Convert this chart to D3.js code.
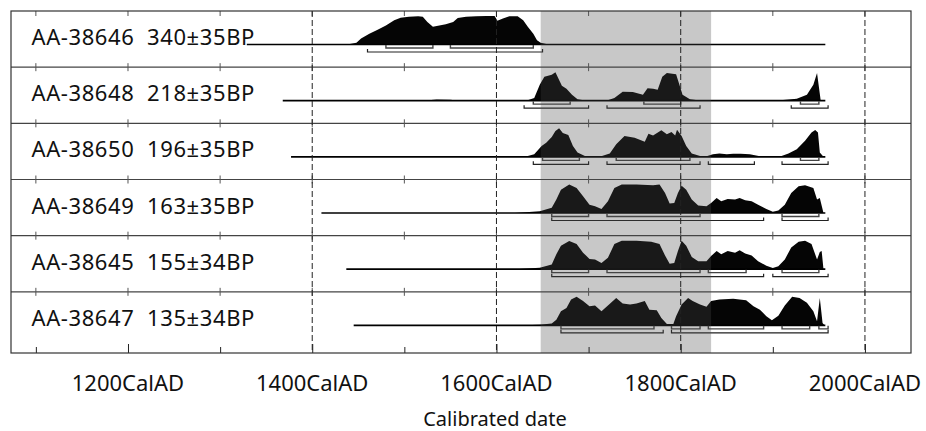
<!DOCTYPE html>
<html>
<head>
<meta charset="utf-8">
<script src="https://cdn.jsdelivr.net/npm/d3@7"></script>
<style>
    body {
        margin: 0;
        background: #fff;
    }
    text {
        font-family: "Noto Sans", sans-serif;
        fill: #111;
    }
</style>
</head>
<body>
<svg id="chart" width="926" height="431"></svg>
<script>
    // sample labels, top to bottom
    const labels = [
        "AA-38646  340\u00b135BP",
        "AA-38648  218\u00b135BP",
        "AA-38650  196\u00b135BP",
        "AA-38649  163\u00b135BP",
        "AA-38645  155\u00b134BP",
        "AA-38647  135\u00b134BP",
    ];

    // extent of the horizontal line under each distribution (cal AD)
    const lineStart = [1329, 1368, 1377, 1410, 1437, 1445];
    const lineEnd = [1957, 1957, 1957, 1957, 1957, 1957];

    // calibrated probability, [year, relative probability 0-100]
    const prob38646 = [
        [1438, 0], [1448, 6], [1453, 21], [1462, 38], [1471, 52], [1480, 67],
        [1489, 85], [1496, 94], [1505, 97], [1515, 99], [1520, 97], [1525, 79],
        [1531, 62], [1538, 67], [1545, 71], [1553, 79], [1558, 93], [1567, 97],
        [1578, 99], [1589, 100], [1598, 100], [1601, 83], [1607, 91], [1614, 99],
        [1623, 99], [1629, 85], [1634, 62], [1640, 38], [1644, 15], [1648, 6],
        [1654, 2], [1661, 0],
    ];
    const prob38648 = [
        [1520, 0], [1535, 4], [1550, 3], [1560, 0], [1625, 0], [1633, 1],
        [1641, 9], [1647, 56], [1652, 84], [1660, 91], [1664, 100], [1671, 52],
        [1676, 42], [1682, 21], [1688, 5], [1698, 0], [1720, 1], [1728, 9],
        [1737, 31], [1748, 30], [1759, 21], [1764, 44], [1770, 42], [1775, 38],
        [1780, 84], [1785, 97], [1795, 93], [1798, 62], [1802, 21], [1810, 5],
        [1821, 1], [1850, 2], [1880, 1.5], [1905, 1], [1926, 7], [1937, 21],
        [1944, 56], [1948, 97], [1952, 0],
    ];
    const prob38650 = [
        [1600, 0], [1633, 2], [1641, 9], [1649, 38], [1654, 49], [1660, 70],
        [1664, 91], [1668, 100], [1672, 84], [1678, 77], [1683, 38], [1688, 15],
        [1696, 3], [1712, 0], [1723, 12], [1730, 44], [1739, 73], [1750, 67],
        [1761, 53], [1765, 81], [1770, 75], [1779, 93], [1785, 79], [1790, 87],
        [1794, 75], [1796, 95], [1801, 73], [1806, 38], [1812, 12], [1821, 3],
        [1828, 2], [1835, 9], [1842, 12], [1850, 9], [1857, 11], [1865, 11],
        [1875, 9], [1886, 2], [1908, 1], [1917, 12], [1926, 27], [1935, 56],
        [1942, 85], [1946, 94], [1949, 85], [1951, 15], [1955, 0],
    ];
    const prob38649 = [
        [1620, 0], [1647, 6], [1660, 18], [1665, 47], [1670, 82], [1679, 100],
        [1687, 88], [1694, 59], [1701, 29], [1707, 24], [1714, 14], [1721, 41],
        [1728, 88], [1736, 100], [1752, 100], [1770, 97], [1777, 100], [1783, 70],
        [1788, 33], [1793, 35], [1797, 70], [1801, 96], [1806, 82], [1812, 47],
        [1819, 26], [1828, 24], [1833, 35], [1839, 53], [1844, 41], [1851, 49],
        [1859, 47], [1864, 53], [1870, 45], [1877, 41], [1884, 29], [1893, 14],
        [1900, 4], [1906, 9], [1913, 29], [1920, 70], [1928, 94], [1935, 97],
        [1944, 88], [1948, 47], [1951, 53], [1955, 0],
    ];
    const prob38645 = [
        [1620, 0], [1647, 5], [1660, 16], [1665, 52], [1670, 82], [1679, 99],
        [1687, 88], [1694, 58], [1701, 36], [1707, 34], [1714, 22], [1721, 40],
        [1728, 88], [1736, 100], [1752, 100], [1768, 96], [1777, 88], [1783, 48],
        [1788, 19], [1793, 22], [1797, 64], [1801, 100], [1806, 82], [1812, 43],
        [1819, 28], [1828, 28], [1833, 46], [1839, 64], [1844, 52], [1851, 64],
        [1859, 58], [1864, 66], [1870, 55], [1877, 48], [1884, 28], [1893, 12],
        [1900, 4], [1906, 10], [1913, 34], [1920, 76], [1928, 96], [1935, 100],
        [1942, 88], [1948, 34], [1951, 60], [1953, 64], [1955, 0],
    ];
    const prob38647 = [
        [1630, 0], [1647, 2], [1660, 6], [1665, 20], [1670, 49], [1676, 61],
        [1681, 91], [1687, 100], [1694, 85], [1701, 67], [1707, 70], [1714, 49],
        [1721, 70], [1730, 96], [1737, 77], [1745, 73], [1752, 77], [1761, 85],
        [1766, 55], [1774, 53], [1779, 26], [1785, 5], [1792, 5], [1795, 32],
        [1801, 73], [1808, 96], [1813, 85], [1821, 73], [1828, 65], [1833, 85],
        [1842, 91], [1857, 93], [1871, 88], [1879, 67], [1886, 55], [1893, 32],
        [1899, 18], [1906, 34], [1913, 70], [1921, 100], [1929, 96], [1937, 79],
        [1944, 49], [1948, 14], [1951, 96], [1954, 8], [1956, 0],
    ];
    const distributions = [prob38646, prob38648, prob38650, prob38649, prob38645, prob38647];

    // 68.2% and 95.4% ranges per sample
    const range68 = [
        [[1480, 1531], [1550, 1640]],
        [[1640, 1680], [1760, 1800], [1930, 1950]],
        [[1650, 1690], [1730, 1810], [1930, 1950]],
        [[1660, 1700], [1720, 1821], [1910, 1950]],
        [[1660, 1700], [1720, 1821], [1830, 1871], [1910, 1950]],
        [[1670, 1771], [1790, 1821], [1830, 1890], [1910, 1940], [1950, 1960]],
    ];
    const range95 = [
        [[1460, 1650]],
        [[1630, 1700], [1720, 1821], [1920, 1960]],
        [[1640, 1700], [1720, 1821], [1830, 1880], [1910, 1960]],
        [[1660, 1890], [1910, 1960]],
        [[1660, 1890], [1900, 1960]],
        [[1670, 1781], [1790, 1960]],
    ];

    // shaded interval and axis marks
    const shadedSpan = [1648, 1833];
    const tickYears = [1100, 1200, 1300, 1400, 1500, 1600, 1700, 1800, 1900, 2000];
    const labelYears = [1200, 1400, 1600, 1800, 2000];
    const dashedYears = [1400, 1600, 1800, 2000];
    const axisTitle = "Calibrated date";

    const svg = d3.select("#chart");
    const plotLeft = 11, plotRight = 911, plotTop = 11, plotBottom = 353;
    const rowsBottom = 348;

    const x = d3.scaleLinear().domain([1073, 2050]).range([plotLeft, plotRight]);
    const row = d3.scaleBand().domain(d3.range(labels.length)).range([plotTop, rowsBottom]);
    const h = d3.scaleLinear().domain([0, 100]).range([0, 28.5]);
    const base = (i) => row(i) + 33.5;

    // distributions
    const area = d3.area()
        .x((d) => x(d[0]))
        .y0(0)
        .y1((d) => -h(d[1]));

    const rows = svg.selectAll(".row")
        .data(labels)
        .enter()
        .append("g")
        .attr("class", "row")
        .attr("transform", (d, i) => `translate(0,${base(i)})`);

    rows.append("path")
        .attr("d", (d, i) => area(distributions[i]))
        .attr("fill", "#050505");

    rows.append("line")
        .attr("x1", (d, i) => x(lineStart[i]))
        .attr("x2", (d, i) => x(lineEnd[i]))
        .attr("stroke", "#000")
        .attr("stroke-width", 1.6);

    function bracket(r, dy) {
        return `M${x(r[0])},${dy - 3}V${dy}H${x(r[1])}V${dy - 3}`;
    }

    rows.each(function (d, i) {
        const g = d3.select(this);
        range68[i].forEach((r) => {
            g.append("path")
                .attr("d", bracket(r, 3.5))
                .attr("fill", "none")
                .attr("stroke", "#444")
                .attr("stroke-width", 1.4);
        });
        range95[i].forEach((r) => {
            g.append("path")
                .attr("d", bracket(r, 7.5))
                .attr("fill", "none")
                .attr("stroke", "#222")
                .attr("stroke-width", 1.2);
        });
    });

    // grey interval laid over the distributions
    svg.append("rect")
        .attr("x", x(shadedSpan[0]))
        .attr("y", plotTop)
        .attr("width", x(shadedSpan[1]) - x(shadedSpan[0]))
        .attr("height", plotBottom - plotTop)
        .attr("fill", "#4a4a4a")
        .attr("opacity", 0.3);

    // row separators with small crossing ticks
    const seps = d3.range(1, labels.length).map((i) => row(i));
    svg.selectAll(".sep")
        .data(seps)
        .enter()
        .append("line")
        .attr("class", "sep")
        .attr("x1", plotLeft)
        .attr("x2", plotRight)
        .attr("y1", (d) => d)
        .attr("y2", (d) => d)
        .attr("stroke", "#444")
        .attr("stroke-width", 1.2);

    seps.forEach((y) => {
        svg.selectAll(null)
            .data(tickYears)
            .enter()
            .append("line")
            .attr("x1", (d) => x(d))
            .attr("x2", (d) => x(d))
            .attr("y1", y - 4)
            .attr("y2", y + 4)
            .attr("stroke", "#555");
    });

    svg.selectAll(".toptick")
        .data(tickYears)
        .enter()
        .append("line")
        .attr("x1", (d) => x(d))
        .attr("x2", (d) => x(d))
        .attr("y1", plotTop)
        .attr("y2", plotTop + 5)
        .attr("stroke", "#555");

    // dashed guides
    svg.selectAll(".dash")
        .data(dashedYears)
        .enter()
        .append("line")
        .attr("x1", (d) => x(d))
        .attr("x2", (d) => x(d))
        .attr("y1", plotTop)
        .attr("y2", plotBottom)
        .attr("stroke", "#222")
        .attr("stroke-dasharray", "6,3");

    // bottom axis
    const axis = d3.axisTop(x)
        .tickValues(tickYears)
        .tickSize(5)
        .tickFormat("");
    svg.append("g")
        .attr("transform", `translate(0,${plotBottom})`)
        .call(axis)
        .call((g) => g.select(".domain").remove())
        .call((g) => g.selectAll("line")
            .attr("stroke", "#222")
            .attr("y2", (d) => (labelYears.includes(d) ? -9 : -6)));

    svg.selectAll(".ylab")
        .data(labelYears)
        .enter()
        .append("text")
        .attr("x", (d) => x(d))
        .attr("y", 391)
        .attr("text-anchor", "middle")
        .style("font-size", "22px")
        .text((d) => d + "CalAD");

    svg.append("text")
        .attr("x", 495)
        .attr("y", 426)
        .attr("text-anchor", "middle")
        .style("font-size", "20px")
        .text(axisTitle);

    // frame
    svg.append("rect")
        .attr("x", plotLeft)
        .attr("y", plotTop)
        .attr("width", plotRight - plotLeft)
        .attr("height", plotBottom - plotTop)
        .attr("fill", "none")
        .attr("stroke", "#333")
        .attr("stroke-width", 1.2);

    // sample labels
    svg.selectAll(".lab")
        .data(labels)
        .enter()
        .append("text")
        .attr("x", 31.5)
        .attr("y", (d, i) => row(i) + 34)
        .style("font-size", "22px")
        .style("letter-spacing", "0.6px")
        .style("white-space", "pre")
        .text((d) => d);
</script>
</body>
</html>
